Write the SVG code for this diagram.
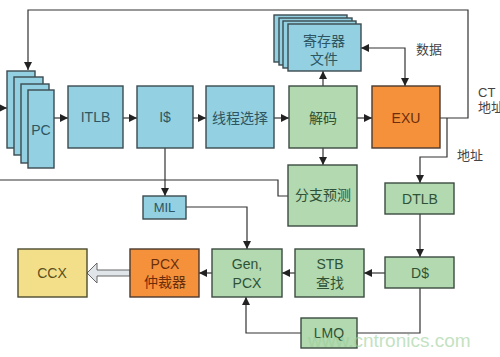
<svg xmlns="http://www.w3.org/2000/svg" width="500" height="357" viewBox="0 0 500 357">
<style>
.b{fill:#93d0e1;stroke:#3b4b50;stroke-width:1.4}
.g{fill:#b2d9b0;stroke:#3b4b40;stroke-width:1.4}
.o{fill:#f5913a;stroke:#4a3a30;stroke-width:1.4}
.y{fill:#f3df8a;stroke:#4a4a30;stroke-width:1.4}
.t{font-family:"Liberation Sans","Noto Sans CJK SC",sans-serif;font-size:14px;text-anchor:middle;dominant-baseline:central}
.tb{fill:#2d5662}.tg{fill:#2f5236}.to{fill:#6b2e0c}.ty{fill:#5a5020}
.c{fill:none;stroke:#333;stroke-width:1.2}
.lbl{font-family:"Liberation Sans","Noto Sans CJK SC",sans-serif;font-size:13px;fill:#444}
</style>
<defs>
<marker id="a" markerUnits="userSpaceOnUse" markerWidth="8" markerHeight="8" refX="8" refY="4" orient="auto-start-reverse"><path d="M0,0 L8,4 L0,8 z" fill="#222"/></marker>
</defs>
<g id="connectors">
<path class="c" d="M440,118 H468 V10 H28 V70" marker-end="url(#a)"/>
<path class="c" d="M0,108 H7" marker-end="url(#a)"/>
<path class="c" d="M54,118 H68" marker-end="url(#a)"/>
<path class="c" d="M123,118 H137" marker-end="url(#a)"/>
<path class="c" d="M193,118 H206" marker-end="url(#a)"/>
<path class="c" d="M274,118 H289" marker-end="url(#a)"/>
<path class="c" d="M357,118 H372" marker-end="url(#a)"/>
<path class="c" d="M323,86 V71" marker-end="url(#a)"/>
<path class="c" d="M323,148 V165" marker-end="url(#a)"/>
<path class="c" d="M361,48 H405 V86" marker-start="url(#a)" marker-end="url(#a)"/>
<path class="c" d="M447,118 V157 H420 V183" marker-end="url(#a)"/>
<path class="c" d="M288,196 H278 V180 H0"/>
<path class="c" d="M165,148 V196" marker-end="url(#a)"/>
<path class="c" d="M186,207 H247 V249" marker-end="url(#a)"/>
<path class="c" d="M420,214 V257" marker-end="url(#a)"/>
<path class="c" d="M385,273 H364" marker-end="url(#a)"/>
<path class="c" d="M295,273 H282" marker-end="url(#a)"/>
<path class="c" d="M212,273 H199" marker-end="url(#a)"/>
<path class="c" d="M420,288 V333 H357"/>
<path class="c" d="M301,333 H246 V297" marker-end="url(#a)"/>
<polygon points="130,270 97,270 97,263 87,273 97,283 97,276 130,276" fill="#dfe5e8" stroke="#666" stroke-width="1"/>
</g>
<g id="pc">
<rect class="b" x="7" y="71" width="28" height="77"/>
<rect class="b" x="14" y="77" width="29" height="78"/>
<rect class="b" x="21" y="84" width="28" height="79"/>
<rect class="b" x="28" y="90" width="26" height="78"/>
<text class="t tb" x="41" y="130">PC</text>
</g>
<g id="itlb"><rect class="b" x="68" y="86" width="55" height="62"/><text class="t tb" x="95.5" y="117">ITLB</text></g>
<g id="icache"><rect class="b" x="137" y="86" width="56" height="62"/><text class="t tb" x="165" y="117">I$</text></g>
<g id="thread"><rect class="b" x="206" y="86" width="68" height="62"/><text class="t tb" x="240" y="118">线程选择</text></g>
<g id="decode"><rect class="g" x="289" y="86" width="68" height="62"/><text class="t tg" x="323" y="118">解码</text></g>
<g id="exu"><rect class="o" x="372" y="86" width="68" height="62"/><text class="t to" x="406" y="118">EXU</text></g>
<g id="regfile">
<rect class="b" x="274" y="15" width="73" height="47"/>
<rect class="b" x="279" y="18" width="73" height="47"/>
<rect class="b" x="283" y="21" width="73" height="47"/>
<rect class="b" x="288" y="24" width="73" height="47"/>
<text class="t tb" x="324" y="41">寄存器</text>
<text class="t tb" x="324" y="59">文件</text>
</g>
<g id="bp"><rect class="g" x="288" y="165" width="69" height="61"/><text class="t tg" x="323" y="195">分支预测</text></g>
<g id="dtlb"><rect class="g" x="385" y="183" width="69" height="31"/><text class="t tg" x="420" y="199">DTLB</text></g>
<g id="dcache"><rect class="g" x="385" y="257" width="69" height="31"/><text class="t tg" x="420" y="273">D$</text></g>
<g id="stb"><rect class="g" x="295" y="249" width="69" height="48"/><text class="t tg" x="330" y="264">STB</text><text class="t tg" x="330" y="283">查找</text></g>
<g id="gen"><rect class="g" x="212" y="249" width="70" height="48"/><text class="t tg" x="247" y="264">Gen,</text><text class="t tg" x="247" y="283">PCX</text></g>
<g id="pcxarb"><rect class="o" x="130" y="249" width="69" height="48"/><text class="t to" x="165" y="264">PCX</text><text class="t to" x="165" y="282">仲裁器</text></g>
<g id="ccx"><rect class="y" x="18" y="249" width="69" height="48"/><text class="t ty" x="52" y="273">CCX</text></g>
<g id="mil"><rect class="b" x="143" y="196" width="43" height="23"/><text class="t tb" x="164.5" y="207.5" style="font-size:13px">MIL</text></g>
<g id="lmq"><rect class="g" x="301" y="318" width="56" height="30"/><text class="t tg" x="329" y="333">LMQ</text></g>
<g id="labels">
<text class="lbl" x="416" y="54">数据</text>
<text class="lbl" x="478" y="97">CT</text>
<text class="lbl" x="478" y="112">地址</text>
<text class="lbl" x="457" y="160">地址</text>
<text x="308" y="347" style="font-family:'Liberation Sans',sans-serif;font-size:19px;fill:#9ccf9a;opacity:0.6">www.cntronics.com</text>
</g>
</svg>
